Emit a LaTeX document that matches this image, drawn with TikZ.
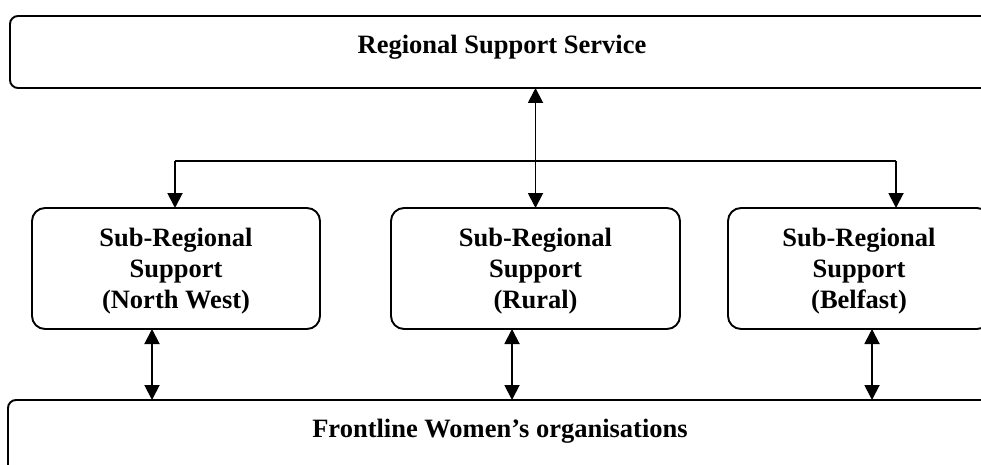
\documentclass[tikz,border=0pt]{standalone}
\usepackage{fontspec}
\setmainfont{Liberation Serif}
\usetikzlibrary{arrows.meta,calc}
\tikzset{
  boxtext/.style={inner sep=0pt, font=\fontsize{26.5}{31}\selectfont\bfseries, align=center},
  bigbox/.style={draw, line width=1.9pt, rounded corners=8pt, inner sep=0pt, outer sep=0pt},
  subbox/.style={draw, line width=1.9pt, rounded corners=13pt, inner sep=0pt, outer sep=0pt,
     minimum height=121pt},
  link/.style={line width=1.9pt},
  onearr/.style={line width=1.9pt, -{Triangle[length=15pt,width=15pt]}},
  dblarr/.style={line width=1.9pt, {Triangle[length=15pt,width=15pt]}-{Triangle[length=15pt,width=15pt]}}
}
\begin{document}
\begin{tikzpicture}[x=1pt,y=-1pt]
\useasboundingbox (0,0) rectangle (981,465);
\clip (0,0) rectangle (981,465);
\node[bigbox, minimum width=984pt, minimum height=72pt] (top) at (502,52) {};
\node[boxtext] (toptext) at (502,47) {Regional Support Service};
\node[subbox, minimum width=288pt] (nw) at (176,268.5) {};
\node[subbox, minimum width=289pt] (ru) at (535.5,268.5) {};
\node[subbox, minimum width=262pt] (bf) at (859,268.5) {};
\node[boxtext] (nwtext) at ([yshift=-3pt]nw.center) {Sub-Regional\\Support\\(North West)};
\node[boxtext] (rutext) at ([yshift=-3pt]ru.center) {Sub-Regional\\Support\\(Rural)};
\node[boxtext] (bftext) at ([yshift=-3pt]bf.center) {Sub-Regional\\Support\\(Belfast)};
\node[bigbox, minimum width=984pt, minimum height=120pt] (fl) at (500,460) {};
\node[boxtext] (fltext) at (500,431) {Frontline Women’s organisations};
\coordinate (hl) at (175,161);
\coordinate (hr) at (896,161);
\draw[link] (hl) -- (hr);
\draw[onearr] (hl) -- (hl |- nw.north);
\draw[onearr] (hr) -- (hr |- bf.north);
\draw[dblarr] (ru.north |- top.south) -- (ru.north);
\path ([xshift=-24pt]nw.south) coordinate (n1);
\path ([xshift=-23.5pt]ru.south) coordinate (r1);
\path ([xshift=13pt]bf.south) coordinate (b1);
\draw[dblarr] (n1) -- (n1 |- fl.north);
\draw[dblarr] (r1) -- (r1 |- fl.north);
\draw[dblarr] (b1) -- (b1 |- fl.north);
\end{tikzpicture}
\end{document}
